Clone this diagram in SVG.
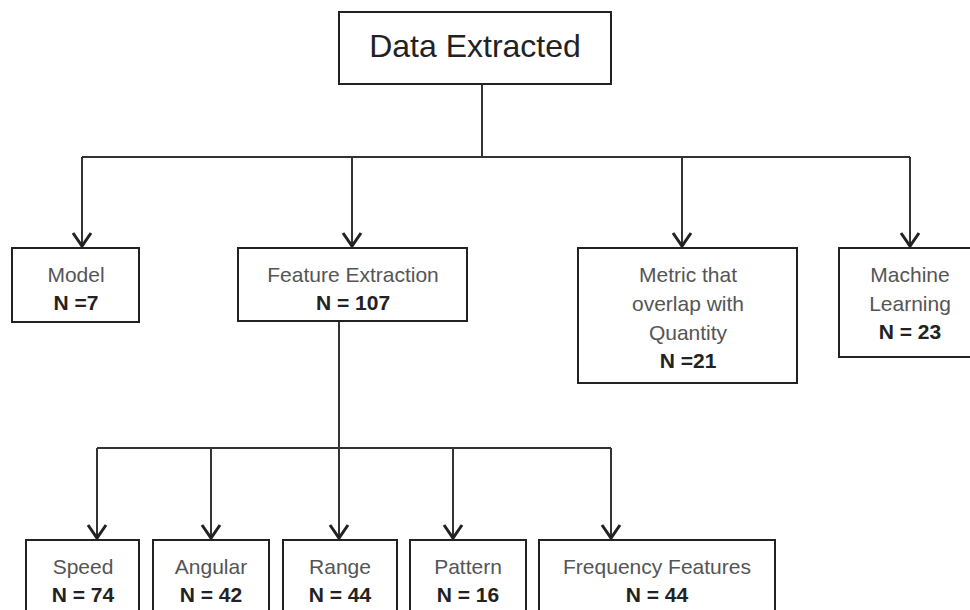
<svg xmlns="http://www.w3.org/2000/svg" width="970" height="610" viewBox="0 0 970 610">
<style>
.box{fill:#fff;stroke:#222;stroke-width:2}
.lbl{font-family:"Liberation Sans",Arial,sans-serif;font-size:21px;fill:#555;text-anchor:middle}
.n{font-family:"Liberation Sans",Arial,sans-serif;font-size:21px;font-weight:bold;fill:#222;text-anchor:middle}
.title{font-family:"Liberation Sans",Arial,sans-serif;font-size:32px;fill:#222;text-anchor:middle}
.ln{fill:none;stroke:#333;stroke-width:2}
</style>
<defs>
<marker id="arr" markerUnits="userSpaceOnUse" markerWidth="30" markerHeight="30" viewBox="-15 -15 30 30" refX="0" refY="0" orient="auto" overflow="visible">
<path d="M-14,-9 L-1,0 L-14,9" fill="none" stroke="#222" stroke-width="3"/>
</marker>
</defs>
<rect width="970" height="610" fill="#fff"/>
<g id="connectors">
<path class="ln" d="M482,84 V157"/>
<path class="ln" d="M82,157 H910"/>
<path class="ln" d="M82,157 V247" marker-end="url(#arr)"/>
<path class="ln" d="M352,157 V247" marker-end="url(#arr)"/>
<path class="ln" d="M682,157 V247" marker-end="url(#arr)"/>
<path class="ln" d="M910,157 V247" marker-end="url(#arr)"/>
<path class="ln" d="M339,321 V448"/>
<path class="ln" d="M97,448 H611"/>
<path class="ln" d="M97,448 V539" marker-end="url(#arr)"/>
<path class="ln" d="M211,448 V539" marker-end="url(#arr)"/>
<path class="ln" d="M339,448 V539" marker-end="url(#arr)"/>
<path class="ln" d="M453,448 V539" marker-end="url(#arr)"/>
<path class="ln" d="M611,448 V539" marker-end="url(#arr)"/>
</g>
<g id="data-extracted">
<rect class="box" x="339" y="12" width="272" height="72"/>
<text class="title" x="475" y="57">Data Extracted</text>
</g>
<g id="model">
<rect class="box" x="12" y="248" width="127" height="74"/>
<text class="lbl" x="76" y="282">Model</text>
<text class="n" x="76" y="310">N =7</text>
</g>
<g id="feature-extraction">
<rect class="box" x="238" y="248" width="229" height="73"/>
<text class="lbl" x="353" y="282">Feature Extraction</text>
<text class="n" x="353" y="310">N = 107</text>
</g>
<g id="metric">
<rect class="box" x="578" y="248" width="219" height="135"/>
<text class="lbl" x="688" y="282">Metric that</text>
<text class="lbl" x="688" y="311">overlap with</text>
<text class="lbl" x="688" y="340">Quantity</text>
<text class="n" x="688" y="368">N =21</text>
</g>
<g id="machine-learning">
<rect class="box" x="839" y="248" width="140" height="109"/>
<text class="lbl" x="910" y="282">Machine</text>
<text class="lbl" x="910" y="311">Learning</text>
<text class="n" x="910" y="339">N = 23</text>
</g>
<g id="speed">
<rect class="box" x="26" y="540" width="113" height="80"/>
<text class="lbl" x="83" y="574">Speed</text>
<text class="n" x="83" y="602">N = 74</text>
</g>
<g id="angular">
<rect class="box" x="153" y="540" width="116" height="80"/>
<text class="lbl" x="211" y="574">Angular</text>
<text class="n" x="211" y="602">N = 42</text>
</g>
<g id="range">
<rect class="box" x="283" y="540" width="114" height="80"/>
<text class="lbl" x="340" y="574">Range</text>
<text class="n" x="340" y="602">N = 44</text>
</g>
<g id="pattern">
<rect class="box" x="410" y="540" width="116" height="80"/>
<text class="lbl" x="468" y="574">Pattern</text>
<text class="n" x="468" y="602">N = 16</text>
</g>
<g id="frequency-features">
<rect class="box" x="539" y="540" width="236" height="80"/>
<text class="lbl" x="657" y="574">Frequency Features</text>
<text class="n" x="657" y="602">N = 44</text>
</g>
</svg>
